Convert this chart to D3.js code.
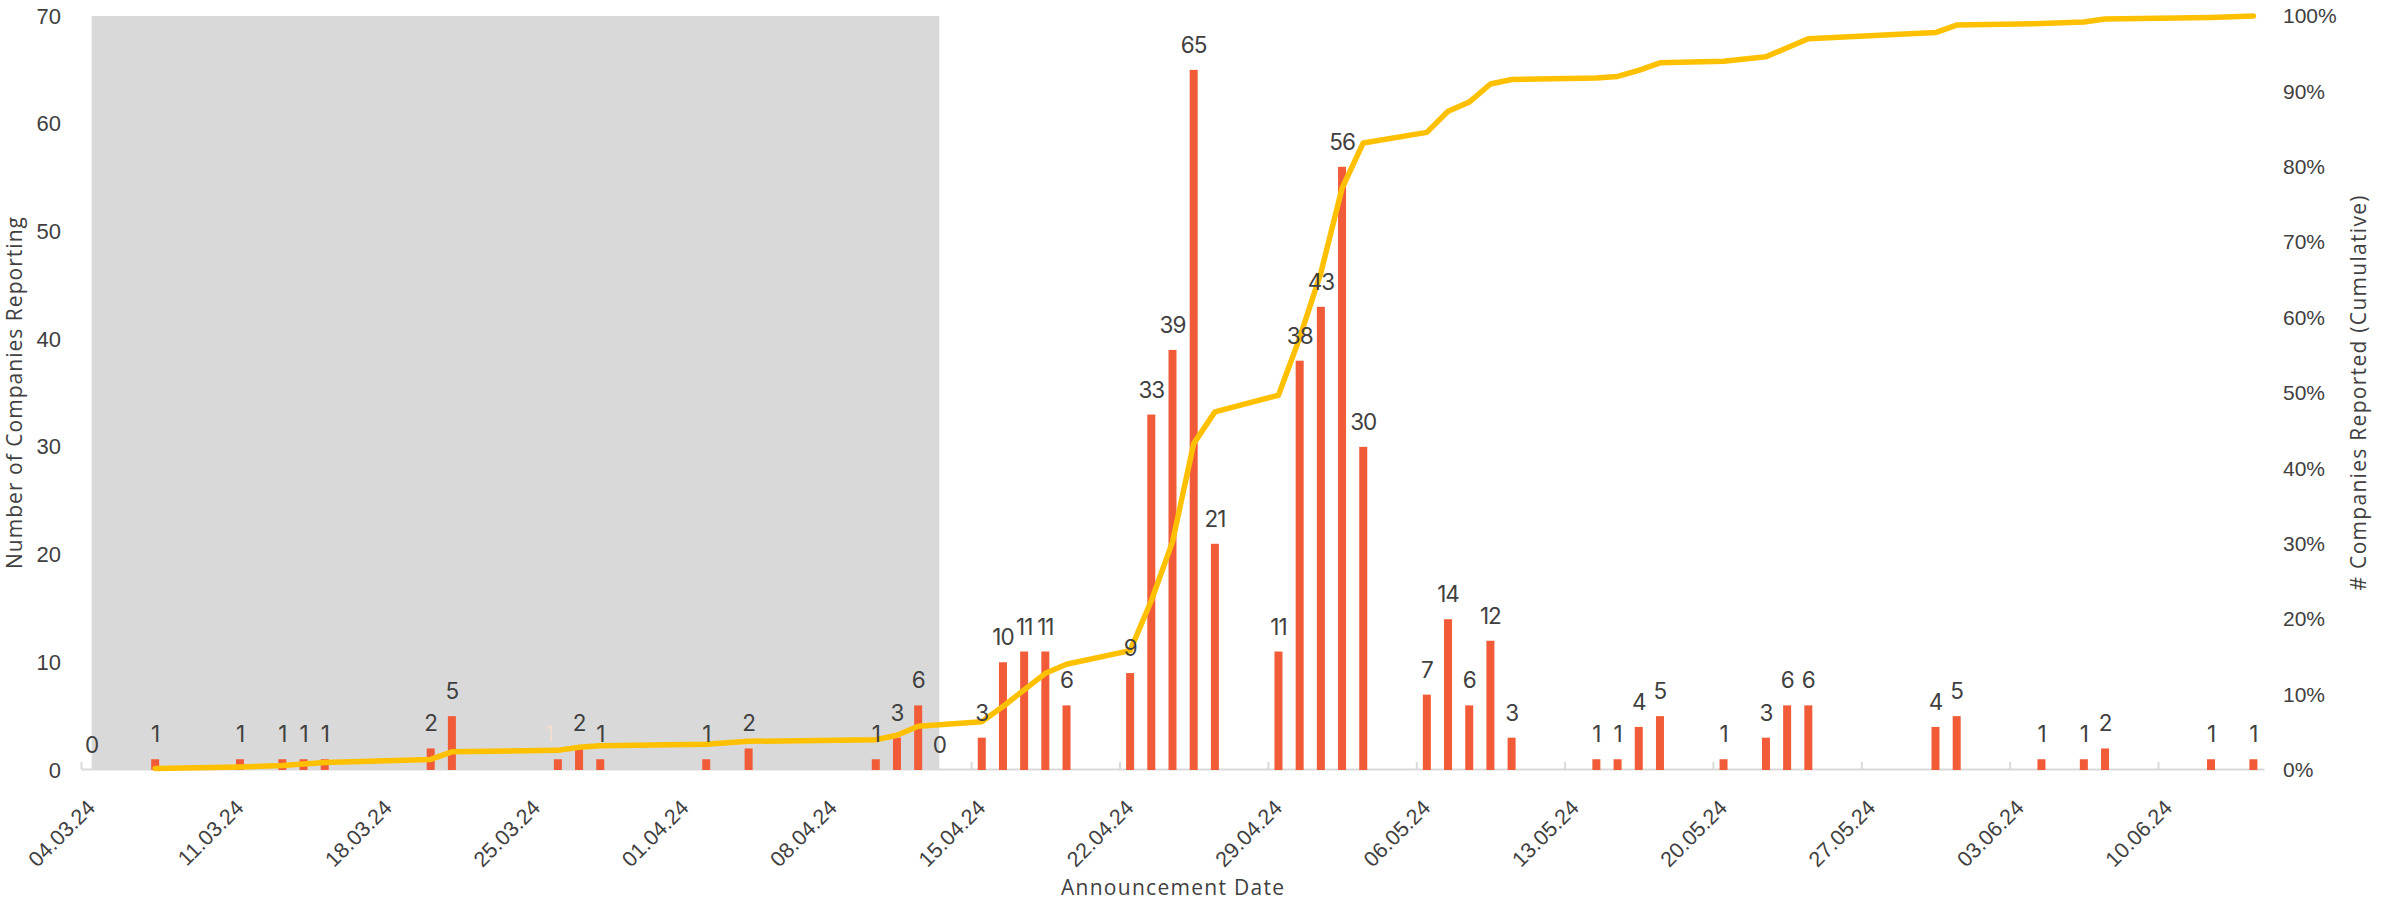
<!DOCTYPE html>
<html>
<head>
<meta charset="utf-8">
<script src="https://cdn.jsdelivr.net/npm/d3@7/dist/d3.min.js"></script>
<style>
  html, body { margin: 0; padding: 0; background: #ffffff; }
  svg { display: block; font-family: "Open Sans", "Noto Sans", sans-serif; }
  .value-label { font-family: Inter, "Open Sans", sans-serif; font-variant-numeric: proportional-nums; }
</style>
</head>
<body>
<svg id="chart" width="2381" height="901"></svg>
<script>
// Announcement dates (dd.mm.yy) and number of companies reporting on each date
const announcementDates = [
  "04.03.24", "07.03.24", "11.03.24", "13.03.24", "14.03.24", "15.03.24",
  "20.03.24", "21.03.24", "26.03.24", "27.03.24", "28.03.24", "02.04.24",
  "04.04.24", "10.04.24", "11.04.24", "12.04.24", "13.04.24", "15.04.24",
  "16.04.24", "17.04.24", "18.04.24", "19.04.24", "22.04.24", "23.04.24",
  "24.04.24", "25.04.24", "26.04.24", "29.04.24", "30.04.24", "01.05.24",
  "02.05.24", "03.05.24", "06.05.24", "07.05.24", "08.05.24", "09.05.24",
  "10.05.24", "14.05.24", "15.05.24", "16.05.24", "17.05.24", "20.05.24",
  "22.05.24", "23.05.24", "24.05.24", "30.05.24", "31.05.24", "04.06.24",
  "06.06.24", "07.06.24", "12.06.24", "14.06.24"
];
const companiesReporting = [
  0, 1, 1, 1, 1, 1,
  2, 5, 1, 2, 1, 1,
  2, 1, 3, 6, 0, 3,
  10, 11, 11, 6, 9, 33,
  39, 65, 21, 11, 38, 43,
  56, 30, 7, 14, 6, 12,
  3, 1, 1, 4, 5, 1,
  3, 6, 6, 4, 5, 1,
  1, 2, 1, 1
];

// Shaded period (first to last date of the window)
const shadedPeriod = ["04.03.24", "13.04.24"];

// Date axis
const axisStart = "04.03.24";
const axisEnd = "15.06.24";
const xTickLabels = [
  "04.03.24", "11.03.24", "18.03.24", "25.03.24", "01.04.24", "08.04.24",
  "15.04.24", "22.04.24", "29.04.24", "06.05.24", "13.05.24", "20.05.24",
  "27.05.24", "03.06.24", "10.06.24"
];
const leftTicks = [0, 10, 20, 30, 40, 50, 60, 70];
const rightTicks = [0, 0.1, 0.2, 0.3, 0.4, 0.5, 0.6, 0.7, 0.8, 0.9, 1.0];

// Label drawn in a muted tone
const mutedLabelDate = "26.03.24";

const parse = d3.utcParse("%d.%m.%y");
const fmt = d3.utcFormat("%d.%m.%y");

const svg = d3.select("#chart");
const plot = { left: 81, right: 2264, top: 16, bottom: 770 };

const x = d3.scaleUtc()
  .domain([parse(axisStart), parse(axisEnd)])
  .range([plot.left, plot.right]);
const dayCenter = d => {
  const t = parse(d);
  return (x(t) + x(d3.utcDay.offset(t, 1))) / 2;
};

const yLeft = d3.scaleLinear().domain([0, 70]).range([plot.bottom, plot.top]);
const yRight = d3.scaleLinear().domain([0, 1]).range([plot.bottom, plot.top]);

const textColor = "#404040";
const gridGray = "#D9D9D9";

// Shaded period
svg.append("rect")
  .attr("x", dayCenter(shadedPeriod[0]))
  .attr("y", yLeft(70))
  .attr("width", dayCenter(shadedPeriod[1]) - dayCenter(shadedPeriod[0]))
  .attr("height", yLeft(0) - yLeft(70))
  .attr("fill", gridGray);

// X axis
const xAxis = d3.axisBottom(x)
  .tickValues(xTickLabels.map(parse))
  .tickFormat(fmt)
  .tickSizeInner(-7)
  .tickSizeOuter(0);
const gx = svg.append("g")
  .attr("transform", `translate(0,${plot.bottom - 1})`)
  .call(xAxis);
gx.select(".domain").attr("stroke", gridGray).attr("stroke-width", 2);
gx.selectAll(".tick line").attr("stroke", gridGray).attr("stroke-width", 2);
gx.selectAll(".tick text")
  .attr("fill", textColor)
  .style("font-size", "21.5px")
  .attr("text-anchor", "end")
  .attr("x", 0).attr("y", 0).attr("dy", 0)
  .attr("transform", "translate(15,40) rotate(-45)");

// Left axis
const gyl = svg.append("g")
  .attr("transform", `translate(${plot.left - 20},0)`)
  .call(d3.axisLeft(yLeft).tickValues(leftTicks).tickSize(0).tickPadding(0));
gyl.select(".domain").remove();
gyl.selectAll(".tick text").attr("fill", textColor).style("font-size", "22px");

// Right axis
const gyr = svg.append("g")
  .attr("transform", `translate(${plot.right + 19},0)`)
  .call(d3.axisRight(yRight).tickValues(rightTicks).tickFormat(d3.format(".0%")).tickSize(0).tickPadding(0));
gyr.select(".domain").remove();
gyr.selectAll(".tick text").attr("fill", textColor).style("font-size", "21px");

// Bars
const rows = announcementDates.map((d, i) => ({ date: d, value: companiesReporting[i] }));
const barWidth = 8;
svg.append("g").selectAll("rect")
  .data(rows.filter(r => r.value > 0))
  .join("rect")
  .attr("x", r => dayCenter(r.date) - barWidth / 2)
  .attr("y", r => yLeft(r.value))
  .attr("width", barWidth)
  .attr("height", r => yLeft(0) - yLeft(r.value))
  .attr("fill", "#F15B38");

// Cumulative share of companies reported
const total = d3.sum(companiesReporting);
let running = 0;
const cumulative = rows.filter(r => r.value > 0).map(r => {
  running += r.value;
  return { date: r.date, share: running / total };
});
svg.append("path")
  .datum(cumulative)
  .attr("fill", "none")
  .attr("stroke", "#FFC000")
  .attr("stroke-width", 5.5)
  .attr("stroke-linejoin", "round")
  .attr("stroke-linecap", "round")
  .attr("d", d3.line().x(p => dayCenter(p.date)).y(p => yRight(p.share)));

// Value labels
svg.append("g").selectAll("text")
  .data(rows)
  .join("text")
  .attr("class", "value-label")
  .attr("x", r => dayCenter(r.date) + (r.date === mutedLabelDate ? -9 : 0))
  .attr("y", r => yLeft(r.value) - 17)
  .attr("text-anchor", "middle")
  .attr("fill", r => r.date === mutedLabelDate ? "#F3DDD2" : textColor)
  .style("font-size", "22.5px")
  .style("font-weight", 400)
  .attr("letter-spacing", -1)
  .text(r => r.value);

// Axis titles
svg.append("text")
  .attr("x", (plot.left + plot.right) / 2)
  .attr("y", 895)
  .attr("text-anchor", "middle")
  .attr("fill", textColor)
  .style("font-size", "21px")
  .attr("textLength", 223)
  .attr("lengthAdjust", "spacing")
  .text("Announcement Date");

svg.append("text")
  .attr("transform", `translate(22,${(plot.top + plot.bottom) / 2}) rotate(-90)`)
  .attr("text-anchor", "middle")
  .attr("fill", textColor)
  .style("font-size", "21px")
  .attr("textLength", 352)
  .attr("lengthAdjust", "spacing")
  .text("Number of Companies Reporting");

svg.append("text")
  .attr("transform", `translate(2366,${(plot.top + plot.bottom) / 2}) rotate(-90)`)
  .attr("text-anchor", "middle")
  .attr("fill", textColor)
  .style("font-size", "21px")
  .attr("textLength", 395)
  .attr("lengthAdjust", "spacing")
  .text("# Companies Reported (Cumulative)");
</script>
</body>
</html>
